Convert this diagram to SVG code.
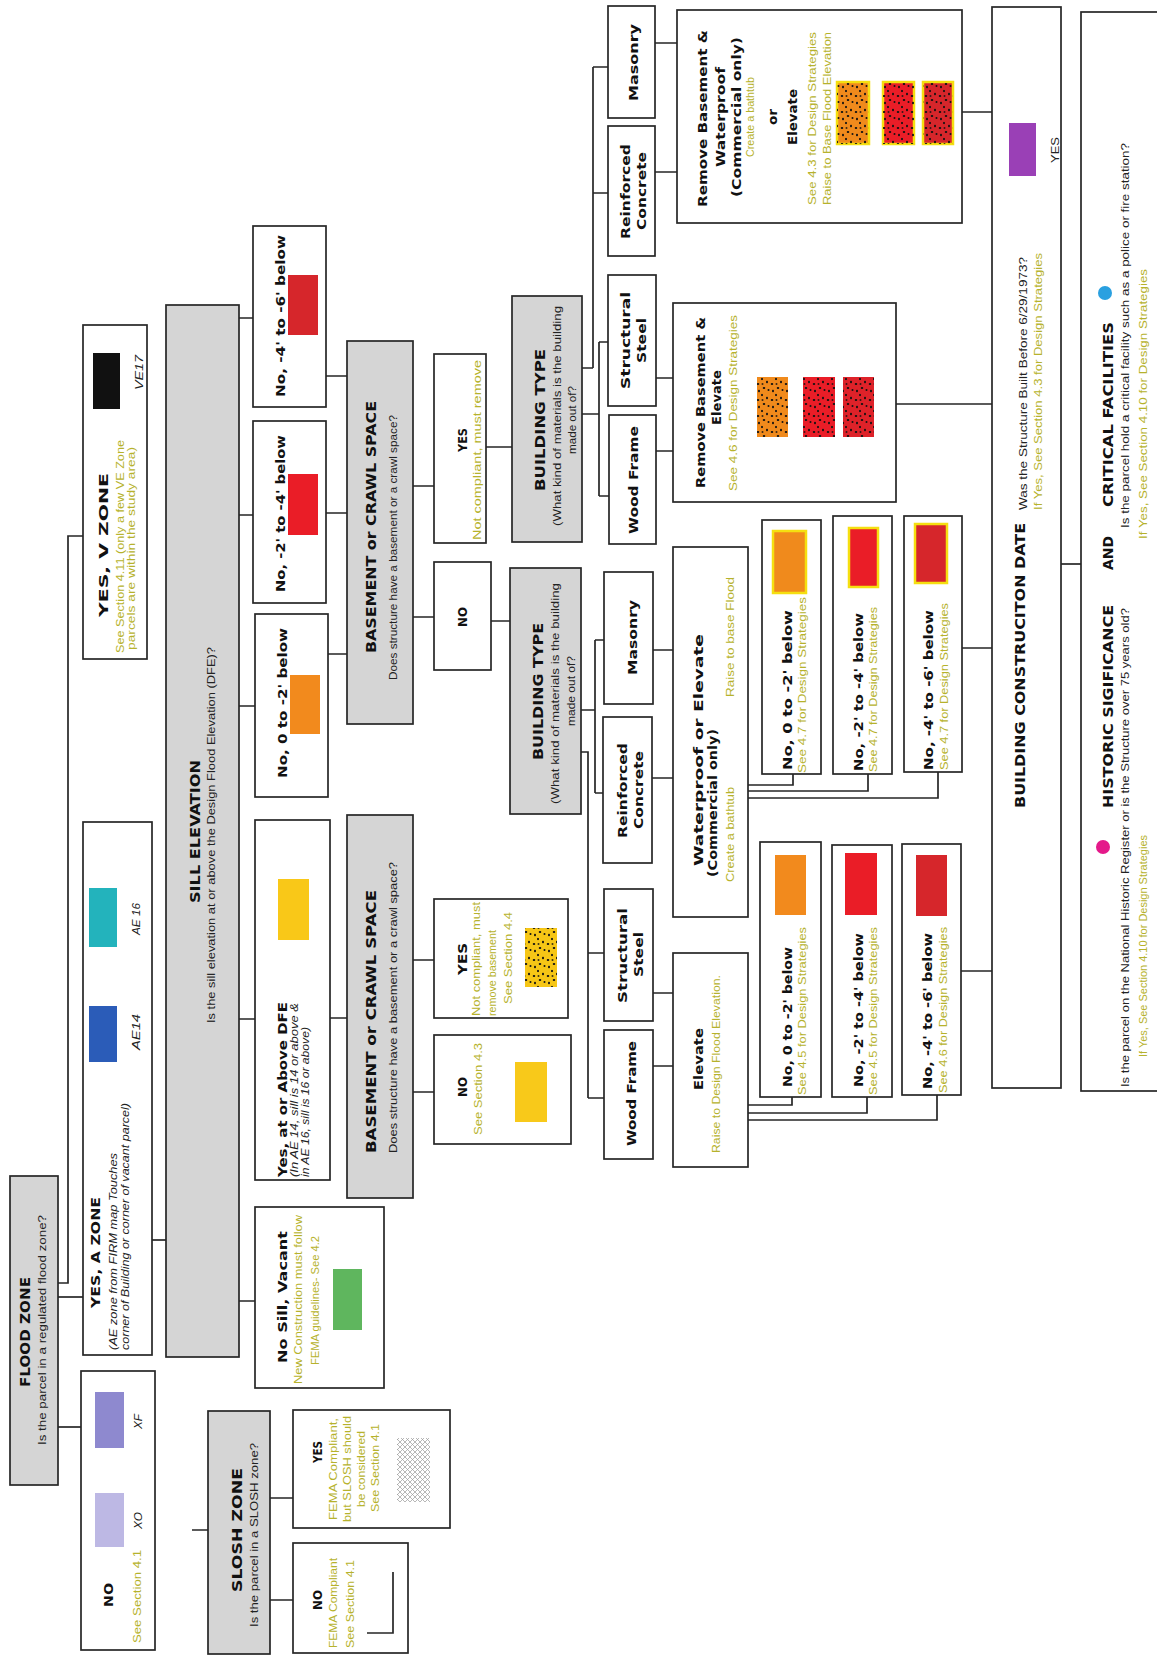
<svg xmlns="http://www.w3.org/2000/svg" width="1157" height="1657" viewBox="0 0 1157 1657">
<defs>
<style>
.box{fill:#fff;stroke:#262626;stroke-width:1.7}
.gbox{fill:#d5d5d5;stroke:#262626;stroke-width:1.7}
.ln{fill:none;stroke:#262626;stroke-width:1.7}
.t{font-family:"DejaVu Sans","Liberation Sans",sans-serif;font-weight:bold;font-size:14px;fill:#111}
.tl{font-family:"DejaVu Sans","Liberation Sans",sans-serif;font-weight:bold;font-size:12.5px;fill:#111}
.s{font-family:"Liberation Sans",Arial,sans-serif;font-size:11px;fill:#222}
.it{font-family:"Liberation Sans",Arial,sans-serif;font-style:italic;font-size:10px;fill:#222}
.o{font-family:"Liberation Sans",Arial,sans-serif;font-size:10.5px;fill:#b6b22c}
.ys{stroke:#f5df10;stroke-width:2.5}
</style>
<pattern id="dots" width="16" height="14" patternUnits="userSpaceOnUse">
<ellipse cx="2" cy="3" rx="1.3" ry="1" fill="#111"/>
<ellipse cx="9" cy="2" rx="1" ry="1.3" fill="#111"/>
<ellipse cx="14" cy="6" rx="1.2" ry="1" fill="#111"/>
<ellipse cx="5" cy="8" rx="1" ry="1.2" fill="#111"/>
<ellipse cx="11" cy="11" rx="1.3" ry="1" fill="#111"/>
<ellipse cx="3" cy="12.5" rx="1" ry="0.9" fill="#111"/>
<ellipse cx="9" cy="6.5" rx="0.8" ry="1" fill="#111"/>
</pattern>
<pattern id="hatch" width="5" height="5" patternUnits="userSpaceOnUse">
<path d="M0,5 L5,0 M0,0 L5,5" stroke="#9a9a9a" stroke-width="0.7" fill="none"/>
</pattern>
</defs>
<rect x="0" y="0" width="1157" height="1657" fill="#fff"/>
<g transform="translate(0,1657) rotate(-90)">

<g id="connectors">
<path class="ln" d="M374,58 L374,68 L1121,68 L1121,83"/>
<path class="ln" d="M360,58 L360,83"/>
<path class="ln" d="M230,58 L230,81"/>
<path class="ln" d="M417,152 L417,166"/>
<path class="ln" d="M1339,239 L1339,253 M1142,239 L1142,253 M951,239 L951,255 M638,239 L638,255 M356,239 L356,255"/>
<path class="ln" d="M1281,326 L1281,347 M1144,326 L1144,347 M1003,328 L1003,347 M639,330 L639,347"/>
<path class="ln" d="M1171,413 L1171,434 M1040,413 L1040,434 M697,413 L697,434 M565,413 L565,434"/>
<path class="ln" d="M1210,486 L1210,512 M1036,491 L1036,510"/>
<path class="ln" d="M1289,582 L1289,593 M1590,593 L1289,593 M1590,593 L1590,608 M1464,593 L1464,608"/>
<path class="ln" d="M1243,582 L1243,599 M1315,599 L1161,599 M1315,599 L1315,608 M1161,599 L1161,609"/>
<path class="ln" d="M947,581 L947,595 M1017,595 L864,595 M1017,595 L1017,604 M864,595 L864,603"/>
<path class="ln" d="M905,581 L905,588 L559,588 M704,588 L704,604 M559,588 L559,604"/>
<path class="ln" d="M1614,655 L1614,677 M1485,655 L1485,677 M1279,656 L1279,673 M1206,656 L1206,673"/>
<path class="ln" d="M1007,653 L1007,673 M879,652 L879,673 M664,653 L664,673 M591,653 L591,673"/>
<path class="ln" d="M872,748 L872,793 L883,793 M866,748 L866,868 L883,868 M859,748 L859,938 L885,938"/>
<path class="ln" d="M552,748 L552,792 L560,792 M544,748 L544,867 L560,867 M537,748 L537,937 L562,937"/>
<path class="ln" d="M1545,962 L1545,992 M1253,896 L1253,992 M1009,962 L1009,992 M686,961 L686,992"/>
<path class="ln" d="M1093,1061 L1093,1081"/>
<path class="ln" d="M127,192 L127,208 M159,270 L159,293 M57,270 L57,293"/>
</g>

<g id="flood-zone">
<rect class="gbox" x="172" y="10" width="309" height="48"/>
<text class="t" x="270" y="30" textLength="110" lengthAdjust="spacingAndGlyphs">FLOOD ZONE</text>
<text class="s" x="212" y="46" textLength="230" lengthAdjust="spacingAndGlyphs">Is the parcel in a regulated flood zone?</text>
</g>

<g id="no-zone">
<rect class="box" x="7" y="81" width="279" height="74"/>
<rect x="209" y="95" width="56" height="29" fill="#8e89cf"/>
<rect x="110" y="95" width="54" height="29" fill="#bdb8e4"/>
<text class="tl" x="50" y="113" textLength="24" lengthAdjust="spacingAndGlyphs">NO</text>
<text class="o" x="14" y="141" textLength="93" lengthAdjust="spacingAndGlyphs">See Section 4.1</text>
<text class="it" x="128" y="142" textLength="17" lengthAdjust="spacingAndGlyphs">XO</text>
<text class="it" x="228" y="142" textLength="15" lengthAdjust="spacingAndGlyphs">XF</text>
</g>

<g id="a-zone">
<rect class="box" x="302" y="83" width="533" height="69"/>
<text class="tl" x="349" y="100" textLength="111" lengthAdjust="spacingAndGlyphs">YES, A ZONE</text>
<text class="it" x="307" y="117" textLength="197" lengthAdjust="spacingAndGlyphs">(AE zone from FIRM map Touches</text>
<text class="it" x="307" y="129" textLength="247" lengthAdjust="spacingAndGlyphs">corner of Building or corner of vacant parcel)</text>
<rect x="595" y="89" width="56" height="28" fill="#2b5cb8"/>
<rect x="710" y="89" width="59" height="28" fill="#23b3bc"/>
<text class="it" x="607" y="140" textLength="36" lengthAdjust="spacingAndGlyphs">AE14</text>
<text class="it" x="722" y="140" textLength="32" lengthAdjust="spacingAndGlyphs">AE 16</text>
</g>

<g id="v-zone">
<rect class="box" x="998" y="83" width="334" height="64"/>
<text class="tl" x="1040" y="108" textLength="144" lengthAdjust="spacingAndGlyphs">YES, V ZONE</text>
<text class="o" x="1004" y="124" textLength="213" lengthAdjust="spacingAndGlyphs">See Section 4.11 (only a few VE Zone</text>
<text class="o" x="1007" y="135" textLength="203" lengthAdjust="spacingAndGlyphs">parcels are within the study area)</text>
<rect x="1248" y="93" width="56" height="27" fill="#111"/>
<text class="it" x="1267" y="143" textLength="35" lengthAdjust="spacingAndGlyphs">VE17</text>
</g>

<g id="sill-elevation">
<rect class="gbox" x="300" y="166" width="1052" height="73"/>
<text class="t" x="754" y="200" textLength="143" lengthAdjust="spacingAndGlyphs">SILL ELEVATION</text>
<text class="s" x="634" y="215" textLength="376" lengthAdjust="spacingAndGlyphs">Is the sill elevation at or above the Design Flood Elevation (DFE)?</text>
</g>

<g id="sill-no-4-6">
<rect class="box" x="1250" y="253" width="181" height="73"/>
<text class="tl" x="1260" y="285" textLength="162" lengthAdjust="spacingAndGlyphs">No, -4' to -6' below</text>
<rect x="1322" y="288" width="60" height="30" fill="#d6262b"/>
</g>
<g id="sill-no-2-4">
<rect class="box" x="1054" y="253" width="182" height="73"/>
<text class="tl" x="1065" y="285" textLength="157" lengthAdjust="spacingAndGlyphs">No, -2' to -4' below</text>
<rect x="1122" y="288" width="61" height="30" fill="#ea1d27"/>
</g>
<g id="sill-no-0-2">
<rect class="box" x="860" y="255" width="183" height="73"/>
<text class="tl" x="879" y="287" textLength="150" lengthAdjust="spacingAndGlyphs">No, 0 to -2' below</text>
<rect x="923" y="290" width="59" height="30" fill="#f28a1d"/>
</g>
<g id="sill-yes">
<rect class="box" x="477" y="255" width="360" height="75"/>
<text class="tl" x="480" y="287" textLength="175" lengthAdjust="spacingAndGlyphs">Yes, at or Above DFE</text>
<text class="it" x="480" y="298" textLength="174" lengthAdjust="spacingAndGlyphs">(In AE 14, sill is 14 or above &amp;</text>
<text class="it" x="480" y="309" textLength="150" lengthAdjust="spacingAndGlyphs">in AE 16, sill is 16 or above)</text>
<rect x="717" y="278" width="61" height="31" fill="#f9c818"/>
</g>
<g id="sill-vacant">
<rect class="box" x="269" y="255" width="181" height="129"/>
<text class="tl" x="294" y="287" textLength="132" lengthAdjust="spacingAndGlyphs">No Sill, Vacant</text>
<text class="o" x="273" y="302" textLength="169" lengthAdjust="spacingAndGlyphs">New Construction must follow</text>
<text class="o" x="292" y="319" textLength="129" lengthAdjust="spacingAndGlyphs">FEMA guidelines- See 4.2</text>
<rect x="327" y="333" width="61" height="29" fill="#5fb65e"/>
</g>

<g id="basement-upper">
<rect class="gbox" x="933" y="347" width="383" height="66"/>
<text class="t" x="1004" y="376" textLength="252" lengthAdjust="spacingAndGlyphs">BASEMENT or CRAWL SPACE</text>
<text class="s" x="977" y="397" textLength="265" lengthAdjust="spacingAndGlyphs">Does structure have a basement or a crawl space?</text>
</g>
<g id="basement-lower">
<rect class="gbox" x="459" y="347" width="383" height="66"/>
<text class="t" x="504" y="376" textLength="263" lengthAdjust="spacingAndGlyphs">BASEMENT or CRAWL SPACE</text>
<text class="s" x="504" y="397" textLength="291" lengthAdjust="spacingAndGlyphs">Does structure have a basement or a crawl space?</text>
</g>

<g id="bsmt-yes-upper">
<rect class="box" x="1114" y="434" width="189" height="52"/>
<text class="tl" x="1205" y="467" textLength="24" lengthAdjust="spacingAndGlyphs">YES</text>
<text class="o" x="1117" y="481" textLength="180" lengthAdjust="spacingAndGlyphs">Not compliant, must remove</text>
</g>
<g id="bsmt-no-upper">
<rect class="box" x="987" y="434" width="108" height="57"/>
<text class="tl" x="1030" y="467" textLength="20" lengthAdjust="spacingAndGlyphs">NO</text>
</g>
<g id="bsmt-yes-lower">
<rect class="box" x="639" y="434" width="119" height="134"/>
<text class="tl" x="682" y="467" textLength="32" lengthAdjust="spacingAndGlyphs">YES</text>
<text class="o" x="641" y="480" textLength="114" lengthAdjust="spacingAndGlyphs">Not compliant, must</text>
<text class="o" x="641" y="496" textLength="86" lengthAdjust="spacingAndGlyphs">remove basement</text>
<text class="o" x="653" y="512" textLength="92" lengthAdjust="spacingAndGlyphs">See Section 4.4</text>
<rect x="670" y="525" width="59" height="32" fill="#f6c616"/>
<rect x="670" y="525" width="59" height="32" fill="url(#dots)"/>
</g>
<g id="bsmt-no-lower">
<rect class="box" x="513" y="434" width="109" height="137"/>
<text class="tl" x="560" y="467" textLength="20" lengthAdjust="spacingAndGlyphs">NO</text>
<text class="o" x="522" y="482" textLength="92" lengthAdjust="spacingAndGlyphs">See Section 4.3</text>
<rect x="535" y="515" width="60" height="32" fill="#f8c91a"/>
</g>

<g id="building-type-upper">
<rect class="gbox" x="1115" y="512" width="246" height="70"/>
<text class="t" x="1166" y="545" textLength="142" lengthAdjust="spacingAndGlyphs">BUILDING TYPE</text>
<text class="s" x="1131" y="561" textLength="220" lengthAdjust="spacingAndGlyphs">(What kind of materials is the building</text>
<text class="s" x="1203" y="576" textLength="68" lengthAdjust="spacingAndGlyphs">made out of?</text>
</g>
<g id="building-type-lower">
<rect class="gbox" x="843" y="510" width="246" height="71"/>
<text class="t" x="897" y="543" textLength="137" lengthAdjust="spacingAndGlyphs">BUILDING TYPE</text>
<text class="s" x="853" y="559" textLength="221" lengthAdjust="spacingAndGlyphs">(What kind of materials is the building</text>
<text class="s" x="931" y="575" textLength="70" lengthAdjust="spacingAndGlyphs">made out of?</text>
</g>

<g id="masonry-upper">
<rect class="box" x="1539" y="608" width="112" height="47"/>
<text class="tl" x="1556" y="638" textLength="77" lengthAdjust="spacingAndGlyphs">Masonry</text>
</g>
<g id="concrete-upper">
<rect class="box" x="1401" y="608" width="130" height="47"/>
<text class="tl" x="1418" y="630" textLength="95" lengthAdjust="spacingAndGlyphs">Reinforced</text>
<text class="tl" x="1427" y="646" textLength="78" lengthAdjust="spacingAndGlyphs">Concrete</text>
</g>
<g id="steel-upper">
<rect class="box" x="1251" y="608" width="131" height="48"/>
<text class="tl" x="1268" y="630" textLength="97" lengthAdjust="spacingAndGlyphs">Structural</text>
<text class="tl" x="1294" y="646" textLength="45" lengthAdjust="spacingAndGlyphs">Steel</text>
</g>
<g id="wood-upper">
<rect class="box" x="1113" y="609" width="129" height="47"/>
<text class="tl" x="1123" y="638" textLength="108" lengthAdjust="spacingAndGlyphs">Wood Frame</text>
</g>
<g id="masonry-lower">
<rect class="box" x="953" y="604" width="132" height="49"/>
<text class="tl" x="982" y="637" textLength="75" lengthAdjust="spacingAndGlyphs">Masonry</text>
</g>
<g id="concrete-lower">
<rect class="box" x="794" y="603" width="146" height="49"/>
<text class="tl" x="819" y="627" textLength="95" lengthAdjust="spacingAndGlyphs">Reinforced</text>
<text class="tl" x="828" y="643" textLength="78" lengthAdjust="spacingAndGlyphs">Concrete</text>
</g>
<g id="steel-lower">
<rect class="box" x="636" y="604" width="132" height="49"/>
<text class="tl" x="654" y="627" textLength="95" lengthAdjust="spacingAndGlyphs">Structural</text>
<text class="tl" x="680" y="643" textLength="45" lengthAdjust="spacingAndGlyphs">Steel</text>
</g>
<g id="wood-lower">
<rect class="box" x="498" y="604" width="129" height="49"/>
<text class="tl" x="511" y="636" textLength="105" lengthAdjust="spacingAndGlyphs">Wood Frame</text>
</g>

<g id="remove-basement-elevate">
<rect class="box" x="1155" y="673" width="199" height="223"/>
<text class="tl" x="1169" y="705" textLength="171" lengthAdjust="spacingAndGlyphs">Remove Basement &amp;</text>
<text class="tl" x="1232" y="721" textLength="55" lengthAdjust="spacingAndGlyphs">Elevate</text>
<text class="o" x="1166" y="737" textLength="176" lengthAdjust="spacingAndGlyphs">See 4.6 for Design Strategies</text>
<rect x="1220" y="757" width="60" height="31" fill="#f08a1c"/>
<rect x="1220" y="757" width="60" height="31" fill="url(#dots)"/>
<rect x="1220" y="803" width="60" height="32" fill="#ea1d27"/>
<rect x="1220" y="803" width="60" height="32" fill="url(#dots)"/>
<rect x="1220" y="843" width="60" height="31" fill="#de2229"/>
<rect x="1220" y="843" width="60" height="31" fill="url(#dots)"/>
</g>

<g id="remove-basement-waterproof">
<rect class="box" x="1434" y="677" width="213" height="285"/>
<text class="tl" x="1450" y="707" textLength="177" lengthAdjust="spacingAndGlyphs">Remove Basement &amp;</text>
<text class="tl" x="1490" y="725" textLength="100" lengthAdjust="spacingAndGlyphs">Waterproof</text>
<text class="tl" x="1460" y="741" textLength="160" lengthAdjust="spacingAndGlyphs">(Commercial only)</text>
<text class="o" x="1500" y="754" textLength="80" lengthAdjust="spacingAndGlyphs">Create a bathtub</text>
<text class="tl" x="1532" y="777" textLength="16" lengthAdjust="spacingAndGlyphs">or</text>
<text class="tl" x="1512" y="797" textLength="56" lengthAdjust="spacingAndGlyphs">Elevate</text>
<text class="o" x="1452" y="816" textLength="173" lengthAdjust="spacingAndGlyphs">See 4.3 for Design Strategies</text>
<text class="o" x="1452" y="831" textLength="173" lengthAdjust="spacingAndGlyphs">Raise to Base Flood Elevation</text>
<rect class="ys" x="1513" y="837" width="62" height="32" fill="#f08a1c"/>
<rect x="1513" y="837" width="62" height="32" fill="url(#dots)"/>
<rect class="ys" x="1513" y="883" width="62" height="31" fill="#ea1d27"/>
<rect x="1513" y="883" width="62" height="31" fill="url(#dots)"/>
<rect class="ys" x="1513" y="923" width="62" height="30" fill="#d6262b"/>
<rect x="1513" y="923" width="62" height="30" fill="url(#dots)"/>
</g>

<g id="waterproof-or-elevate">
<rect class="box" x="740" y="673" width="370" height="75"/>
<text class="tl" x="791" y="703" textLength="232" lengthAdjust="spacingAndGlyphs">Waterproof or Elevate</text>
<text class="tl" x="780" y="717" textLength="148" lengthAdjust="spacingAndGlyphs">(Commercial only)</text>
<text class="o" x="775" y="734" textLength="95" lengthAdjust="spacingAndGlyphs">Create a bathtub</text>
<text class="o" x="960" y="734" textLength="120" lengthAdjust="spacingAndGlyphs">Raise to base Flood</text>
</g>

<g id="elevate">
<rect class="box" x="490" y="673" width="214" height="75"/>
<text class="tl" x="567" y="703" textLength="62" lengthAdjust="spacingAndGlyphs">Elevate</text>
<text class="o" x="504" y="720" textLength="178" lengthAdjust="spacingAndGlyphs">Raise to Design Flood Elevation.</text>
</g>

<g id="wp-no-0-2">
<rect class="box" x="883" y="762" width="254" height="59"/>
<text class="tl" x="887" y="792" textLength="160" lengthAdjust="spacingAndGlyphs">No, 0 to -2' below</text>
<text class="o" x="884" y="806" textLength="176" lengthAdjust="spacingAndGlyphs">See 4.7 for Design Strategies</text>
<rect class="ys" x="1064" y="773" width="62" height="33" fill="#f08a1c"/>
</g>
<g id="wp-no-2-4">
<rect class="box" x="883" y="833" width="258" height="59"/>
<text class="tl" x="886" y="863" textLength="158" lengthAdjust="spacingAndGlyphs">No, -2' to -4' below</text>
<text class="o" x="885" y="877" textLength="165" lengthAdjust="spacingAndGlyphs">See 4.7 for Design Strategies</text>
<rect class="ys" x="1070" y="849" width="59" height="29" fill="#ea1d27"/>
</g>
<g id="wp-no-4-6">
<rect class="box" x="885" y="904" width="256" height="58"/>
<text class="tl" x="887" y="933" textLength="160" lengthAdjust="spacingAndGlyphs">No, -4' to -6' below</text>
<text class="o" x="887" y="948" textLength="167" lengthAdjust="spacingAndGlyphs">See 4.7 for Design Strategies</text>
<rect class="ys" x="1074" y="915" width="59" height="32" fill="#d6262b"/>
</g>

<g id="el-no-0-2">
<rect class="box" x="560" y="760" width="255" height="61"/>
<text class="tl" x="570" y="792" textLength="140" lengthAdjust="spacingAndGlyphs">No, 0 to -2' below</text>
<text class="o" x="562" y="806" textLength="168" lengthAdjust="spacingAndGlyphs">See 4.5 for Design Strategies</text>
<rect x="742" y="775" width="60" height="31" fill="#f28a1d"/>
</g>
<g id="el-no-2-4">
<rect class="box" x="560" y="832" width="252" height="60"/>
<text class="tl" x="570" y="863" textLength="154" lengthAdjust="spacingAndGlyphs">No, -2' to -4' below</text>
<text class="o" x="562" y="877" textLength="168" lengthAdjust="spacingAndGlyphs">See 4.5 for Design Strategies</text>
<rect x="742" y="845" width="62" height="32" fill="#ea1d27"/>
</g>
<g id="el-no-4-6">
<rect class="box" x="562" y="902" width="251" height="59"/>
<text class="tl" x="568" y="932" textLength="156" lengthAdjust="spacingAndGlyphs">No, -4' to -6' below</text>
<text class="o" x="564" y="947" textLength="166" lengthAdjust="spacingAndGlyphs">See 4.6 for Design Strategies</text>
<rect x="741" y="916" width="61" height="31" fill="#d6262b"/>
</g>

<g id="construction-date">
<rect class="box" x="569" y="992" width="1081" height="69"/>
<text class="t" x="849" y="1025" textLength="285" lengthAdjust="spacingAndGlyphs">BUILDING CONSTRUCITON DATE</text>
<text class="s" x="1147" y="1027" textLength="253" lengthAdjust="spacingAndGlyphs">Was the Structure Built Before 6/29/1973?</text>
<text class="o" x="1147" y="1042" textLength="257" lengthAdjust="spacingAndGlyphs">If Yes, See Section 4.3 for Design Strategies</text>
<rect x="1481" y="1009" width="53" height="27" fill="#9a40b6"/>
<text class="s" x="1494" y="1059" textLength="26" lengthAdjust="spacingAndGlyphs">YES</text>
</g>

<g id="historic-critical">
<rect class="box" x="566" y="1081" width="1079" height="100"/>
<circle cx="810" cy="1103" r="7" fill="#e4198a"/>
<text class="t" x="849" y="1113" textLength="203" lengthAdjust="spacingAndGlyphs">HISTORIC SIGIFICANCE</text>
<text class="t" x="1087" y="1113" textLength="34" lengthAdjust="spacingAndGlyphs">AND</text>
<text class="t" x="1150" y="1113" textLength="185" lengthAdjust="spacingAndGlyphs">CRITICAL FACILITIES</text>
<circle cx="1364" cy="1105" r="7" fill="#2aa0e0"/>
<text class="s" x="570" y="1129" textLength="479" lengthAdjust="spacingAndGlyphs">Is the parcel on the National Historic Register or is the Structure over 75 years old?</text>
<text class="s" x="1129" y="1129" textLength="385" lengthAdjust="spacingAndGlyphs">Is the parcel hold a critical facility such as a police or fire station?</text>
<text class="o" x="600" y="1147" textLength="222" lengthAdjust="spacingAndGlyphs">If Yes, See Section 4.10 for Design Strategies</text>
<text class="o" x="1118" y="1147" textLength="270" lengthAdjust="spacingAndGlyphs">If Yes, See Section 4.10 for Design Strategies</text>
</g>

<g id="slosh-zone">
<rect class="gbox" x="3" y="208" width="243" height="62"/>
<text class="t" x="65" y="242" textLength="124" lengthAdjust="spacingAndGlyphs">SLOSH ZONE</text>
<text class="s" x="30" y="258" textLength="184" lengthAdjust="spacingAndGlyphs">Is the parcel in a SLOSH zone?</text>
</g>
<g id="slosh-yes">
<rect class="box" x="129" y="293" width="118" height="157"/>
<text class="tl" x="194" y="322" textLength="22" lengthAdjust="spacingAndGlyphs">YES</text>
<text class="o" x="137" y="337" textLength="102" lengthAdjust="spacingAndGlyphs">FEMA Compliant,</text>
<text class="o" x="135" y="351" textLength="106" lengthAdjust="spacingAndGlyphs">but SLOSH should</text>
<text class="o" x="150" y="365" textLength="76" lengthAdjust="spacingAndGlyphs">be considered</text>
<text class="o" x="145" y="379" textLength="88" lengthAdjust="spacingAndGlyphs">See Section 4.1</text>
<rect x="155" y="397" width="64" height="33" fill="url(#hatch)"/>
</g>
<g id="slosh-no">
<rect class="box" x="4" y="293" width="110" height="115"/>
<text class="tl" x="47" y="322" textLength="20" lengthAdjust="spacingAndGlyphs">NO</text>
<text class="o" x="9" y="337" textLength="90" lengthAdjust="spacingAndGlyphs">FEMA Compliant</text>
<text class="o" x="9" y="354" textLength="88" lengthAdjust="spacingAndGlyphs">See Section 4.1</text>
<path class="ln" d="M85,393 L24,393 L24,367" stroke-width="1.2"/>
</g>

</g>
</svg>
